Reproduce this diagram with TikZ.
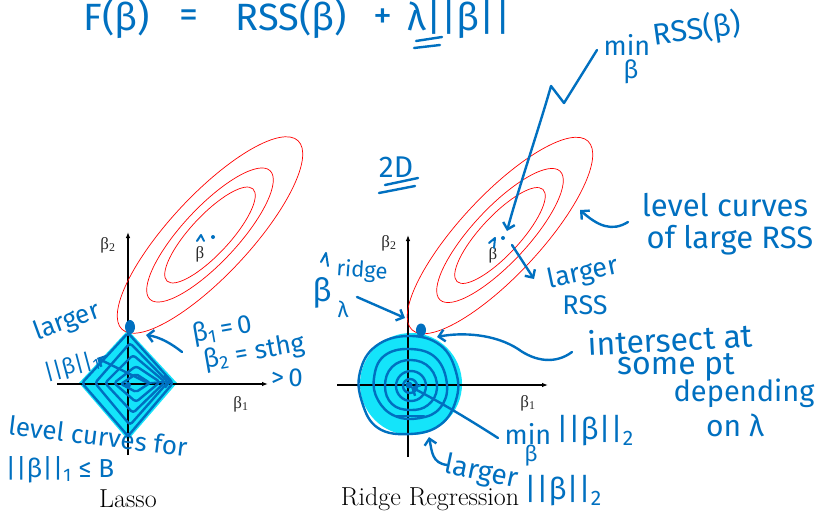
\documentclass[tikz,border=0pt]{standalone}
\usepackage{fontspec}
\newfontfamily\hand{Fira Sans}
\newfontfamily\prtfont{Liberation Serif}
\usetikzlibrary{arrows.meta}
\definecolor{ink}{RGB}{0,112,192}
\definecolor{hl}{RGB}{20,228,250}
\definecolor{prt}{RGB}{40,40,40}
\begin{document}
\begin{tikzpicture}[x=1pt,y=-1pt,
  pen/.style={draw=ink, line width=2.4pt, line cap=round, line join=round},
  penarrow/.style={pen, -{Straight Barb[length=6pt,width=12pt,line width=2.4pt]}},
  hw/.style={text=ink, inner sep=0pt, font=\hand\fontsize{#1}{#1}\selectfont},
  ax/.style={line width=1.1pt, -{Latex[length=6pt,width=4.5pt]}},
  rss/.style={draw=red, line width=0.7pt},
  lbl/.style={text=prt, inner sep=0pt, font=\prtfont\fontsize{17}{17}\selectfont},
  captext/.style={inner sep=0pt, font=\fontsize{26}{30}\selectfont}]
\useasboundingbox (0,0) rectangle (818,516);
\fill[white] (0,0) rectangle (818,516);

% ---------------- title ----------------
\node[hw=38] (tF) at (117,19) {F(β)};
\node[hw=38] (tEq) at (189,19) {=};
\node[hw=38] (tRSS) at (291,19) {RSS(β)};
\node[hw=38] (tPlus) at (383,19) {+};
\node[hw=38] (tPen) at (459,19) {λ||β||};
\draw[pen] (416,41) -- (442,37);
\draw[pen] (414,48) -- (440,45);

% ---------------- Lasso ----------------
\fill[hl] (128,330) -- (177,383) -- (128,440) -- (79,383) -- cycle;
\draw[ax] (57,384) -- (268,384);
\draw[ax] (128,455) -- (128,232);
\node[lbl] (lb2) at (108,245) {β\textsubscript{2}};
\node[lbl] (lb1) at (241,404) {β\textsubscript{1}};
\foreach \a/\b in {129/40, 88/27.5, 63/19.5}
  \draw[rss, rotate around={47:(210,235)}] (210,235) ellipse [x radius=\a pt, y radius=\b pt];
\node[lbl] (lbh) at (200,254) {β};
\draw[pen, line width=2pt] (197,241) -- (201,235) -- (204,241);
\fill[ink] (213,237) circle (2pt);
% diamond rings
\draw[pen, rounded corners=3pt] (128,333) -- (173,383) -- (128,436) -- (82,383) -- cycle;
\draw[pen, rounded corners=3pt] (130,343) -- (168,382) -- (130,425) -- (95,383) -- cycle;
\draw[pen, rounded corners=3pt] (133,355) -- (165,382) -- (133,413) -- (105,383) -- cycle;
\draw[pen, rounded corners=3pt] (136,366) -- (160,382) -- (136,402) -- (114,383) -- cycle;
\draw[pen, rounded corners=2pt] (136,374) -- (150,383) -- (136,392) -- (121,384) -- cycle;
\fill[ink] (128,385) circle (3pt);
\fill[ink] (130,327) ellipse [x radius=5pt, y radius=7pt];
\coordinate (lcorner) at (146,335);
\coordinate (lnorm) at (97,358);
\coordinate (lright) at (172,381);
\draw[penarrow] (148,383) -- (lnorm);
\draw[penarrow, line width=1.8pt] (150,383) -- (lright);
% lasso annotations
\node[hw=26, rotate=20] (llarger) at (67,322) {larger};
\node[hw=22, rotate=15] (lnormtxt) at (72,367) {||β||\textsubscript{1}};
\node[hw=26, rotate=10] (lb1eq) at (222,330) {β\textsubscript{1}\,=\,0};
\node[hw=26, rotate=10] (lb2eq) at (254,353) {β\textsubscript{2} = sthg};
\node[hw=26] (lgt) at (287,378) {>\,0};
\draw[penarrow] (182,352) .. controls (172,344) and (160,337) .. (lcorner);
\node[hw=26, rotate=-7] (llevel) at (98,436) {level curves for};
\node[hw=26] (lcons) at (60,470) {||β||\textsubscript{1} ≤ B};
\node[captext] (lasso) at (128,499) {Lasso};

% ---------------- Ridge ----------------
\fill[hl] (411,384) circle (51pt);
\draw[ax] (337,385) -- (548,385);
\draw[ax] (408,457) -- (408,235);
\node[lbl] (rb2) at (389,243) {β\textsubscript{2}};
\node[lbl] (rb1) at (528,403) {β\textsubscript{1}};
\foreach \a/\b in {129/40, 88/27.5, 63/19.5}
  \draw[rss, rotate around={47:(500,235.5)}] (500,235.5) ellipse [x radius=\a pt, y radius=\b pt];
\node[lbl] (rbh) at (493,255) {β};
\draw[pen, line width=2pt] (489,243) -- (495,238) -- (494,248);
\fill[ink] (503,238) circle (2pt);
% disc rings
\draw[pen] plot[smooth cycle, tension=0.7] coordinates {(408,336) (440,345) (456,372) (456,400) (440,425) (410,434) (378,428) (362,402) (360,372) (376,346)};
\draw[pen] plot[smooth cycle, tension=0.7] coordinates {(410,349) (436,358) (447,385) (440,408) (420,418) (395,416) (378,400) (374,378) (384,356)};
\draw[pen] plot[smooth cycle, tension=0.7] coordinates {(411,360) (430,368) (437,388) (428,405) (410,410) (392,404) (385,386) (392,367)};
\draw[pen] (411,386) circle (15pt);
\draw[pen] (410,386) circle (7pt);
\draw[pen] (396,416) -- (424,416);
\fill[ink] (409,385) circle (3.5pt);
\fill[ink] (421,330) ellipse [x radius=5pt, y radius=6.5pt];
% ridge annotations
\coordinate (rbhat) at (507,231);
\coordinate (rlarger) at (534,279);
\coordinate (rtouch) at (437,337);
\coordinate (rcross) at (405,318);
\coordinate (rorig) at (411,387);
\coordinate (rbottom) at (429,437);
\node[hw=30] (twoD) at (396,167) {2D};
\draw[pen] (385,185) -- (418,178);
\draw[pen] (379,193) -- (415,186);
\node[hw=27] (rmin) at (627,45) {min};
\node[hw=30, rotate=8] (rrss) at (697,30) {RSS(β)};
\node[hw=25] (rminsub) at (631,72) {β};
\draw[penarrow] (597,50) -- (564,103) -- (551,86) .. controls (540,125) and (518,190) .. (rbhat);
\node[hw=31] (rlevel) at (725,205) {level curves};
\node[hw=31] (rlarge) at (730,240) {of large RSS};
\draw[penarrow] (628,222) .. controls (612,232) and (598,226) .. (580,210);
\node[hw=27, rotate=12] (rlargertxt) at (583,274) {larger};
\node[hw=27] (rrsstxt) at (585,305) {RSS};
\draw[penarrow] (512,245) -- (rlarger);
\node[hw=32, rotate=3] (rinter) at (670,339) {intersect at};
\node[hw=32] (rsome) at (676,367) {some pt};
\node[hw=29] (rdep) at (744,393) {depending};
\node[hw=30] (ronl) at (735,425) {on λ};
\draw[penarrow] (572,352) .. controls (556,364) and (536,362) .. (518,349) .. controls (495,334) and (462,332) .. (rtouch);
\node[hw=27] (rmin2) at (528,434) {min};
\node[hw=30] (rnorm2) at (595,431) {||β||\textsubscript{2}};
\node[hw=22] (rmin2sub) at (531,456) {β};
\draw[penarrow] (498,438) .. controls (470,420) and (440,402) .. (rorig);
\node[hw=28, rotate=-12] (rlarger2) at (481,473) {larger};
\node[hw=30] (rnorm3) at (563,491) {||β||\textsubscript{2}};
\draw[penarrow] (447,465) .. controls (432,463) and (432,452) .. (rbottom);
\node[hw=32] (rbr) at (322,293) {β};
\draw[pen, line width=2pt] (321,262) -- (326,253) -- (328,266);
\node[hw=22, rotate=-4] (rridge) at (362,271) {ridge};
\node[hw=22] (rlam) at (343,309) {λ};
\draw[penarrow] (357,297) -- (rcross);
\node[captext] (ridge) at (430,499) {Ridge Regression};
\end{tikzpicture}
\end{document}
